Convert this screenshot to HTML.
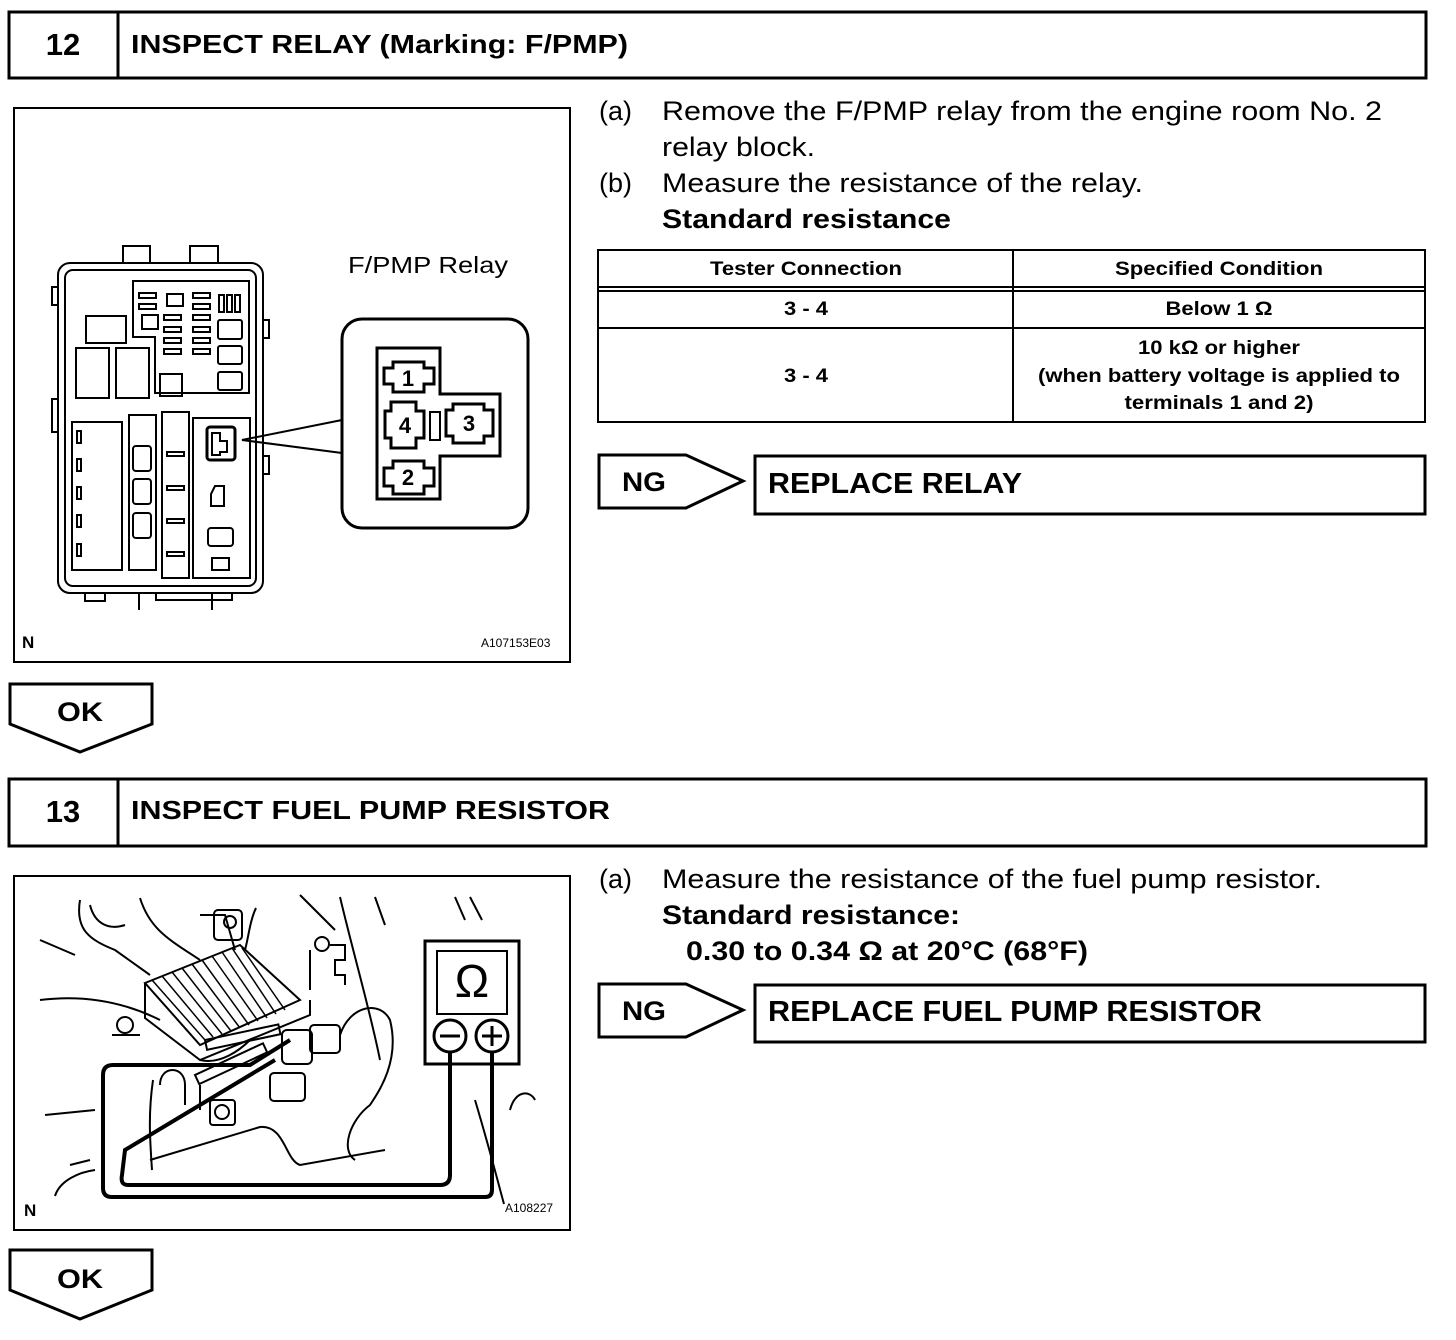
<!DOCTYPE html>
<html><head><meta charset="utf-8"><style>
html,body{margin:0;padding:0;background:#fff;}
svg{display:block;}
text{font-family:"Liberation Sans",Arial,sans-serif;fill:#000;}
.b{font-weight:bold;}
</style></head><body>
<svg width="1456" height="1340" viewBox="0 0 1456 1340" xmlns="http://www.w3.org/2000/svg">
<g fill="none" stroke="#000">
<rect x="9" y="12" width="1417" height="66" stroke-width="3"/>
<line x1="118" y1="12" x2="118" y2="78" stroke-width="3"/>
<rect x="14" y="108" width="556" height="554" stroke-width="2"/>
<rect x="123" y="246" width="27" height="17" stroke-width="2"/>
<rect x="190" y="246" width="28" height="17" stroke-width="2"/>
<rect x="58" y="263" width="205" height="330" rx="12" stroke-width="2"/>
<rect x="65" y="270" width="191" height="316" rx="8" stroke-width="2"/>
<rect x="52" y="287" width="6" height="18" stroke-width="2"/>
<rect x="52" y="399" width="6" height="33" stroke-width="2"/>
<rect x="263" y="320" width="6" height="18" stroke-width="2"/>
<rect x="263" y="456" width="6" height="18" stroke-width="2"/>
<rect x="85" y="593" width="20" height="8" stroke-width="2"/>
<path d="M139 610 V593 H212 V610" stroke-width="2"/>
<path d="M156 593 V600 H232 V593" stroke-width="2"/>
<path d="M133 281 H249 V393 H155 V337 H133 Z" stroke-width="2"/>
<rect x="86" y="316" width="40" height="27" stroke-width="2"/>
<rect x="76" y="348" width="33" height="50" stroke-width="2"/>
<rect x="116" y="348" width="33" height="50" stroke-width="2"/>
<rect x="160" y="374" width="22" height="22" stroke-width="2"/>
<rect x="218" y="320" width="24" height="19" rx="2" stroke-width="2"/>
<rect x="218" y="346" width="24" height="18" rx="2" stroke-width="2"/>
<rect x="218" y="372" width="24" height="18" rx="2" stroke-width="2"/>
<rect x="167" y="294" width="16" height="12" stroke-width="2"/>
<g stroke-width="2">
<rect x="139" y="293" width="17" height="5"/><rect x="139" y="304" width="17" height="5"/>
<rect x="193" y="293" width="17" height="5"/><rect x="193" y="304" width="17" height="5"/>
<rect x="164" y="315" width="17" height="5"/><rect x="193" y="315" width="17" height="5"/>
<rect x="164" y="327" width="17" height="5"/><rect x="193" y="327" width="17" height="5"/>
<rect x="164" y="338" width="17" height="5"/><rect x="193" y="338" width="17" height="5"/>
<rect x="164" y="349" width="17" height="5"/><rect x="193" y="349" width="17" height="5"/>
<rect x="142" y="315" width="16" height="14"/>
<rect x="219" y="295" width="5" height="17"/><rect x="227" y="295" width="5" height="17"/><rect x="235" y="295" width="5" height="17"/>
</g>
<rect x="72" y="422" width="50" height="148" stroke-width="2"/>
<rect x="129" y="415" width="27" height="155" stroke-width="2"/>
<rect x="162" y="412" width="27" height="166" stroke-width="2"/>
<rect x="193" y="418" width="57" height="160" stroke-width="2"/>
<g stroke-width="2">
<rect x="77" y="431" width="4" height="12"/><rect x="77" y="459" width="4" height="12"/><rect x="77" y="487" width="4" height="12"/><rect x="77" y="515" width="4" height="12"/><rect x="77" y="544" width="4" height="12"/>
<rect x="133" y="446" width="18" height="25" rx="3"/><rect x="133" y="479" width="18" height="25" rx="3"/><rect x="133" y="513" width="18" height="25" rx="3"/>
<rect x="167" y="452" width="17" height="4"/><rect x="167" y="486" width="17" height="4"/><rect x="167" y="519" width="17" height="4"/><rect x="167" y="552" width="17" height="4"/>
<rect x="207" y="427" width="28" height="33" rx="3" stroke-width="3"/>
<path d="M212 433 H220 V441 H227 V452 H220 V455 H212 Z"/>
<path d="M215 486 H224 V506 H211 V494 Z"/>
<rect x="208" y="528" width="25" height="18" rx="3"/>
<path d="M212 558 H229 V570 H212 Z"/>
</g>
<path d="M342 420 L242 440 L342 453" stroke-width="2"/>
<rect x="342" y="319" width="186" height="209" rx="20" fill="#fff" stroke-width="3"/>
<path d="M377 348 H440 V394 H500 V456 H440 V499 H377 Z" stroke-width="3"/>
<g stroke-width="3">
<path d="M393 362 H424 V368 H434 V384 H424 V392 H393 V384 H384 V368 H393 Z"/>
<path d="M391 402 H416 V411 H424 V438 H416 V448 H391 V438 H385 V411 H391 Z"/>
<path d="M453 404 H484 V410 H493 V436 H484 V443 H453 V436 H446 V410 H453 Z"/>
<path d="M393 461 H424 V468 H434 V486 H424 V494 H393 V486 H384 V468 H393 Z"/>
<rect x="430" y="412" width="10" height="28" stroke-width="2"/>
</g>
<rect x="598" y="250" width="827" height="172" stroke-width="2"/>
<line x1="1013" y1="250" x2="1013" y2="422" stroke-width="2"/>
<line x1="598" y1="287" x2="1425" y2="287" stroke-width="2"/>
<line x1="598" y1="291" x2="1425" y2="291" stroke-width="2"/>
<line x1="598" y1="328" x2="1425" y2="328" stroke-width="2"/>
<path d="M599 455 H686 L743 481 L686 508 H599 Z" stroke-width="3"/>
<rect x="755" y="456" width="670" height="58" stroke-width="3"/>
<path d="M10 684 H152 V724 L80 752 L10 724 Z" stroke-width="3"/>
<rect x="9" y="779" width="1417" height="67" stroke-width="3"/>
<line x1="118" y1="779" x2="118" y2="846" stroke-width="3"/>
<rect x="14" y="876" width="556" height="354" stroke-width="2"/>
<g stroke-width="2">
<path d="M80 900 C75 930 90 940 115 950 L150 975"/>
<path d="M90 905 C95 925 110 930 125 925"/>
<path d="M140 898 C150 930 170 940 200 960"/>
<path d="M40 940 L75 955"/>
<path d="M40 1000 C80 995 120 1000 160 1020"/>
<path d="M70 1165 L90 1160"/>
<path d="M45 1115 L95 1110"/>
<path d="M55 1196 C60 1180 80 1172 95 1170"/>
<path d="M300 895 L335 930"/>
<path d="M340 897 C355 960 370 1010 380 1060"/>
<path d="M375 897 L385 925"/>
<path d="M455 897 L465 920"/>
<path d="M470 897 L482 920"/>
<path d="M475 1100 C490 1150 500 1190 504 1204"/>
<path d="M510 1110 C515 1090 530 1090 535 1100"/>
<path d="M256 908 C250 920 248 940 245 950"/>
<path d="M200 1085 V1110"/>
<path d="M153 1080 C148 1115 150 1140 152 1170"/>
<path d="M200 1060 C220 1065 240 1050 250 1040"/>
<path d="M150 1160 L260 1127 C285 1125 285 1160 300 1165 L385 1150"/>
<path d="M145 983 L240 945 L300 1000 L200 1045 Z" stroke-width="2"/>
<path d="M145 983 V1018 L200 1060 L310 1015 V1000"/>
<g stroke-width="1.5">
<path d="M152 980 L205 1040"/><path d="M162 976 L213 1037"/><path d="M172 972 L222 1034"/><path d="M182 968 L231 1031"/><path d="M192 964 L240 1028"/><path d="M202 960 L249 1025"/><path d="M212 956 L258 1021"/><path d="M222 952 L267 1018"/><path d="M232 948 L276 1014"/><path d="M242 948 L285 1010"/>
</g>
<path d="M200 915 H225 L235 950"/>
<rect x="214" y="910" width="28" height="30" rx="4"/>
<circle cx="230" cy="922" r="6"/>
<circle cx="322" cy="944" r="7"/>
<path d="M310 950 V990 M330 945 H345 V960 H335 V975 H345 V985"/>
<circle cx="125" cy="1025" r="8"/>
<path d="M112 1035 H140"/>
<rect x="282" y="1030" width="30" height="34" rx="5"/>
<rect x="310" y="1025" width="30" height="28" rx="4"/>
<rect x="270" y="1073" width="35" height="28" rx="4"/>
<path d="M340 1035 C350 1005 380 1000 390 1020 C400 1060 380 1090 370 1105 C350 1120 340 1150 355 1160"/>
<rect x="205" y="1040" width="75" height="10" transform="rotate(-12 205 1040)"/>
<rect x="195" y="1075" width="75" height="10" transform="rotate(-25 195 1075)"/>
<rect x="210" y="1100" width="25" height="25" rx="3"/>
<circle cx="222" cy="1112" r="7"/>
<path d="M160 1085 C160 1065 185 1065 185 1085 V1105"/>
</g>
<path d="M450 1055 V1175 Q450 1185 440 1185 H128 Q120 1185 122 1175 L125 1150 L275 1060" stroke-width="4"/>
<path d="M492 1055 V1190 Q492 1197 485 1197 H112 Q103 1197 103 1188 V1075 Q103 1065 113 1065 H250 L290 1040" stroke-width="4"/>
<rect x="425" y="941" width="94" height="123" stroke-width="3" fill="#fff"/>
<rect x="437" y="951" width="70" height="63" stroke-width="2"/>
<circle cx="450" cy="1036" r="16" stroke-width="3" fill="#fff"/>
<circle cx="492" cy="1036" r="16" stroke-width="3" fill="#fff"/>
<path d="M440 1036 H460 M482 1036 H502 M492 1026 V1046" stroke-width="3"/>
<line x1="450" y1="1052" x2="450" y2="1064" stroke-width="4"/>
<line x1="492" y1="1052" x2="492" y2="1064" stroke-width="4"/>
<path d="M599 984 H686 L743 1010 L686 1037 H599 Z" stroke-width="3"/>
<rect x="755" y="985" width="670" height="57" stroke-width="3"/>
<path d="M10 1250 H152 V1290 L80 1319 L10 1290 Z" stroke-width="3"/>
</g>

<text x="63" y="55" class="b" font-size="31" text-anchor="middle">12</text>
<text x="131" y="53" class="b" font-size="26" textLength="497" lengthAdjust="spacingAndGlyphs">INSPECT RELAY (Marking: F/PMP)</text>
<text x="348" y="273" font-size="23" textLength="160" lengthAdjust="spacingAndGlyphs">F/PMP Relay</text>
<text x="408" y="386" class="b" font-size="22" text-anchor="middle">1</text>
<text x="405" y="433" class="b" font-size="22" text-anchor="middle">4</text>
<text x="469" y="431" class="b" font-size="22" text-anchor="middle">3</text>
<text x="408" y="485" class="b" font-size="22" text-anchor="middle">2</text>
<text x="22" y="648" class="b" font-size="17">N</text>
<text x="481" y="647" font-size="12">A107153E03</text>
<g font-size="27">
<text x="599" y="120">(a)</text><text x="662" y="120" textLength="720" lengthAdjust="spacingAndGlyphs">Remove the F/PMP relay from the engine room No. 2</text>
<text x="662" y="156" textLength="153" lengthAdjust="spacingAndGlyphs">relay block.</text>
<text x="599" y="192">(b)</text><text x="662" y="192" textLength="481" lengthAdjust="spacingAndGlyphs">Measure the resistance of the relay.</text>
<text x="662" y="228" class="b" textLength="289" lengthAdjust="spacingAndGlyphs">Standard resistance</text>
</g>
<g font-size="19" class="b" text-anchor="middle">
<text x="806" y="275" textLength="192" lengthAdjust="spacingAndGlyphs">Tester Connection</text>
<text x="1219" y="275" textLength="208" lengthAdjust="spacingAndGlyphs">Specified Condition</text>
<text x="806" y="315" textLength="44" lengthAdjust="spacingAndGlyphs">3 - 4</text>
<text x="1219" y="315" textLength="107" lengthAdjust="spacingAndGlyphs">Below 1 Ω</text>
<text x="806" y="382" textLength="44" lengthAdjust="spacingAndGlyphs">3 - 4</text>
<text x="1219" y="354" textLength="162" lengthAdjust="spacingAndGlyphs">10 kΩ or higher</text>
<text x="1219" y="382" textLength="362" lengthAdjust="spacingAndGlyphs">(when battery voltage is applied to</text>
<text x="1219" y="409" textLength="189" lengthAdjust="spacingAndGlyphs">terminals 1 and 2)</text>
</g>
<text x="622" y="491" class="b" font-size="27" textLength="44" lengthAdjust="spacingAndGlyphs">NG</text>
<text x="768" y="493" class="b" font-size="29" textLength="254" lengthAdjust="spacingAndGlyphs">REPLACE RELAY</text>
<text x="57" y="721" class="b" font-size="27" textLength="46" lengthAdjust="spacingAndGlyphs">OK</text>
<text x="63" y="822" class="b" font-size="31" text-anchor="middle">13</text>
<text x="131" y="819" class="b" font-size="26" textLength="479" lengthAdjust="spacingAndGlyphs">INSPECT FUEL PUMP RESISTOR</text>
<text x="472" y="997" font-size="46" text-anchor="middle">Ω</text>
<text x="24" y="1216" class="b" font-size="17">N</text>
<text x="505" y="1212" font-size="12">A108227</text>
<g font-size="27">
<text x="599" y="888">(a)</text><text x="662" y="888" textLength="660" lengthAdjust="spacingAndGlyphs">Measure the resistance of the fuel pump resistor.</text>
<text x="662" y="924" class="b" textLength="298" lengthAdjust="spacingAndGlyphs">Standard resistance:</text>
<text x="686" y="960" class="b" textLength="402" lengthAdjust="spacingAndGlyphs">0.30 to 0.34 Ω at 20°C (68°F)</text>
</g>
<text x="622" y="1020" class="b" font-size="27" textLength="44" lengthAdjust="spacingAndGlyphs">NG</text>
<text x="768" y="1021" class="b" font-size="29" textLength="494" lengthAdjust="spacingAndGlyphs">REPLACE FUEL PUMP RESISTOR</text>
<text x="57" y="1288" class="b" font-size="27" textLength="46" lengthAdjust="spacingAndGlyphs">OK</text>
</svg>
</body></html>
